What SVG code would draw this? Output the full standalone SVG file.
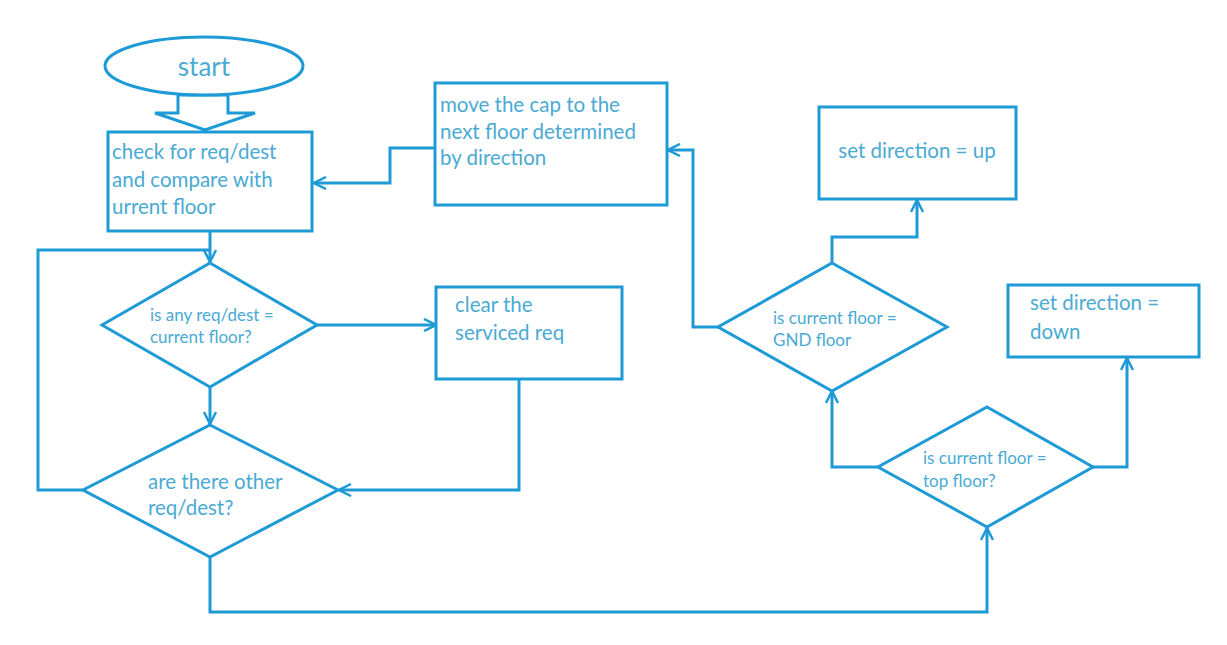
<svg xmlns="http://www.w3.org/2000/svg" width="1227" height="645" viewBox="0 0 1227 645">
<style>
.shape{fill:#ffffff;stroke:#1e9ad6;stroke-width:3}
.line{fill:none;stroke:#1e9ad6;stroke-width:3}
.t{font-family:Lato,"Liberation Sans",sans-serif;fill:#4aaad4}
.l{font-size:20.5px}
.s{font-size:17px}
</style>
<defs>
<marker id="arr" viewBox="0 0 14 14" refX="13" refY="7" markerWidth="14" markerHeight="14" markerUnits="userSpaceOnUse" orient="auto">
<path d="M1,1 L13,7 L1,13" fill="none" stroke="#1e9ad6" stroke-width="2.5"/>
</marker>
</defs>
<rect width="1227" height="645" fill="#ffffff"/>
<g id="connectors">
<polygon class="shape" points="178,95 228,95 228,113 255,113 205,130 155,113 178,113"/>
<polyline class="line" points="435,148 390,148 390,183 314,183" marker-end="url(#arr)"/>
<polyline class="line" points="210,231 210,262" marker-end="url(#arr)"/>
<polyline class="line" points="83,490 38,490 38,250 210,250"/>
<polyline class="line" points="317,325 436,325" marker-end="url(#arr)"/>
<polyline class="line" points="210,387 210,424" marker-end="url(#arr)"/>
<polyline class="line" points="519,379 519,490 339,490" marker-end="url(#arr)"/>
<polyline class="line" points="210,557 210,612 987,612 987,528" marker-end="url(#arr)"/>
<polyline class="line" points="718,327 693,327 693,150 668,150" marker-end="url(#arr)"/>
<polyline class="line" points="832,263 832,237 917,237 917,200" marker-end="url(#arr)"/>
<polyline class="line" points="878,467 832,467 832,391" marker-end="url(#arr)"/>
<polyline class="line" points="1093,467 1127,467 1127,358" marker-end="url(#arr)"/>
</g>
<g id="start">
<ellipse class="shape" cx="204" cy="66" rx="99" ry="29"/>
<text class="t" x="204" y="76" font-size="26" text-anchor="middle">start</text>
</g>
<g id="check">
<rect class="shape" x="108" y="132" width="204" height="99"/>
<text class="t l" x="112" y="159">check for req/dest</text>
<text class="t l" x="112" y="187">and compare with</text>
<text class="t l" x="112" y="214">urrent floor</text>
</g>
<g id="move">
<rect class="shape" x="435" y="83" width="232" height="122"/>
<text class="t l" x="440" y="112">move the cap to the</text>
<text class="t l" x="440" y="139">next floor determined</text>
<text class="t l" x="440" y="165">by direction</text>
</g>
<g id="setup">
<rect class="shape" x="819" y="107" width="197" height="92"/>
<text class="t l" x="917" y="158" text-anchor="middle">set direction = up</text>
</g>
<g id="gnd">
<polygon class="shape" points="832,263 947,327 832,391 718,327"/>
<text class="t s" x="773" y="324">is current floor =</text>
<text class="t s" x="773" y="346">GND floor</text>
</g>
<g id="setdown">
<rect class="shape" x="1008" y="285" width="191" height="72"/>
<text class="t l" x="1030" y="310">set direction =</text>
<text class="t l" x="1030" y="339">down</text>
</g>
<g id="top">
<polygon class="shape" points="987,407 1093,467 987,527 878,467"/>
<text class="t s" x="923" y="464">is current floor =</text>
<text class="t s" x="923" y="487">top floor?</text>
</g>
<g id="anyreq">
<polygon class="shape" points="210,263 317,325 210,387 102,325"/>
<text class="t s" x="150" y="321">is any req/dest =</text>
<text class="t s" x="150" y="343">current floor?</text>
</g>
<g id="other">
<polygon class="shape" points="210,425 338,490 210,557 83,490"/>
<text class="t l" x="148" y="489">are there other</text>
<text class="t l" x="148" y="515">req/dest?</text>
</g>
<g id="clear">
<rect class="shape" x="436" y="287" width="186" height="92"/>
<text class="t l" x="455" y="312">clear the</text>
<text class="t l" x="455" y="340">serviced req</text>
</g>
</svg>
